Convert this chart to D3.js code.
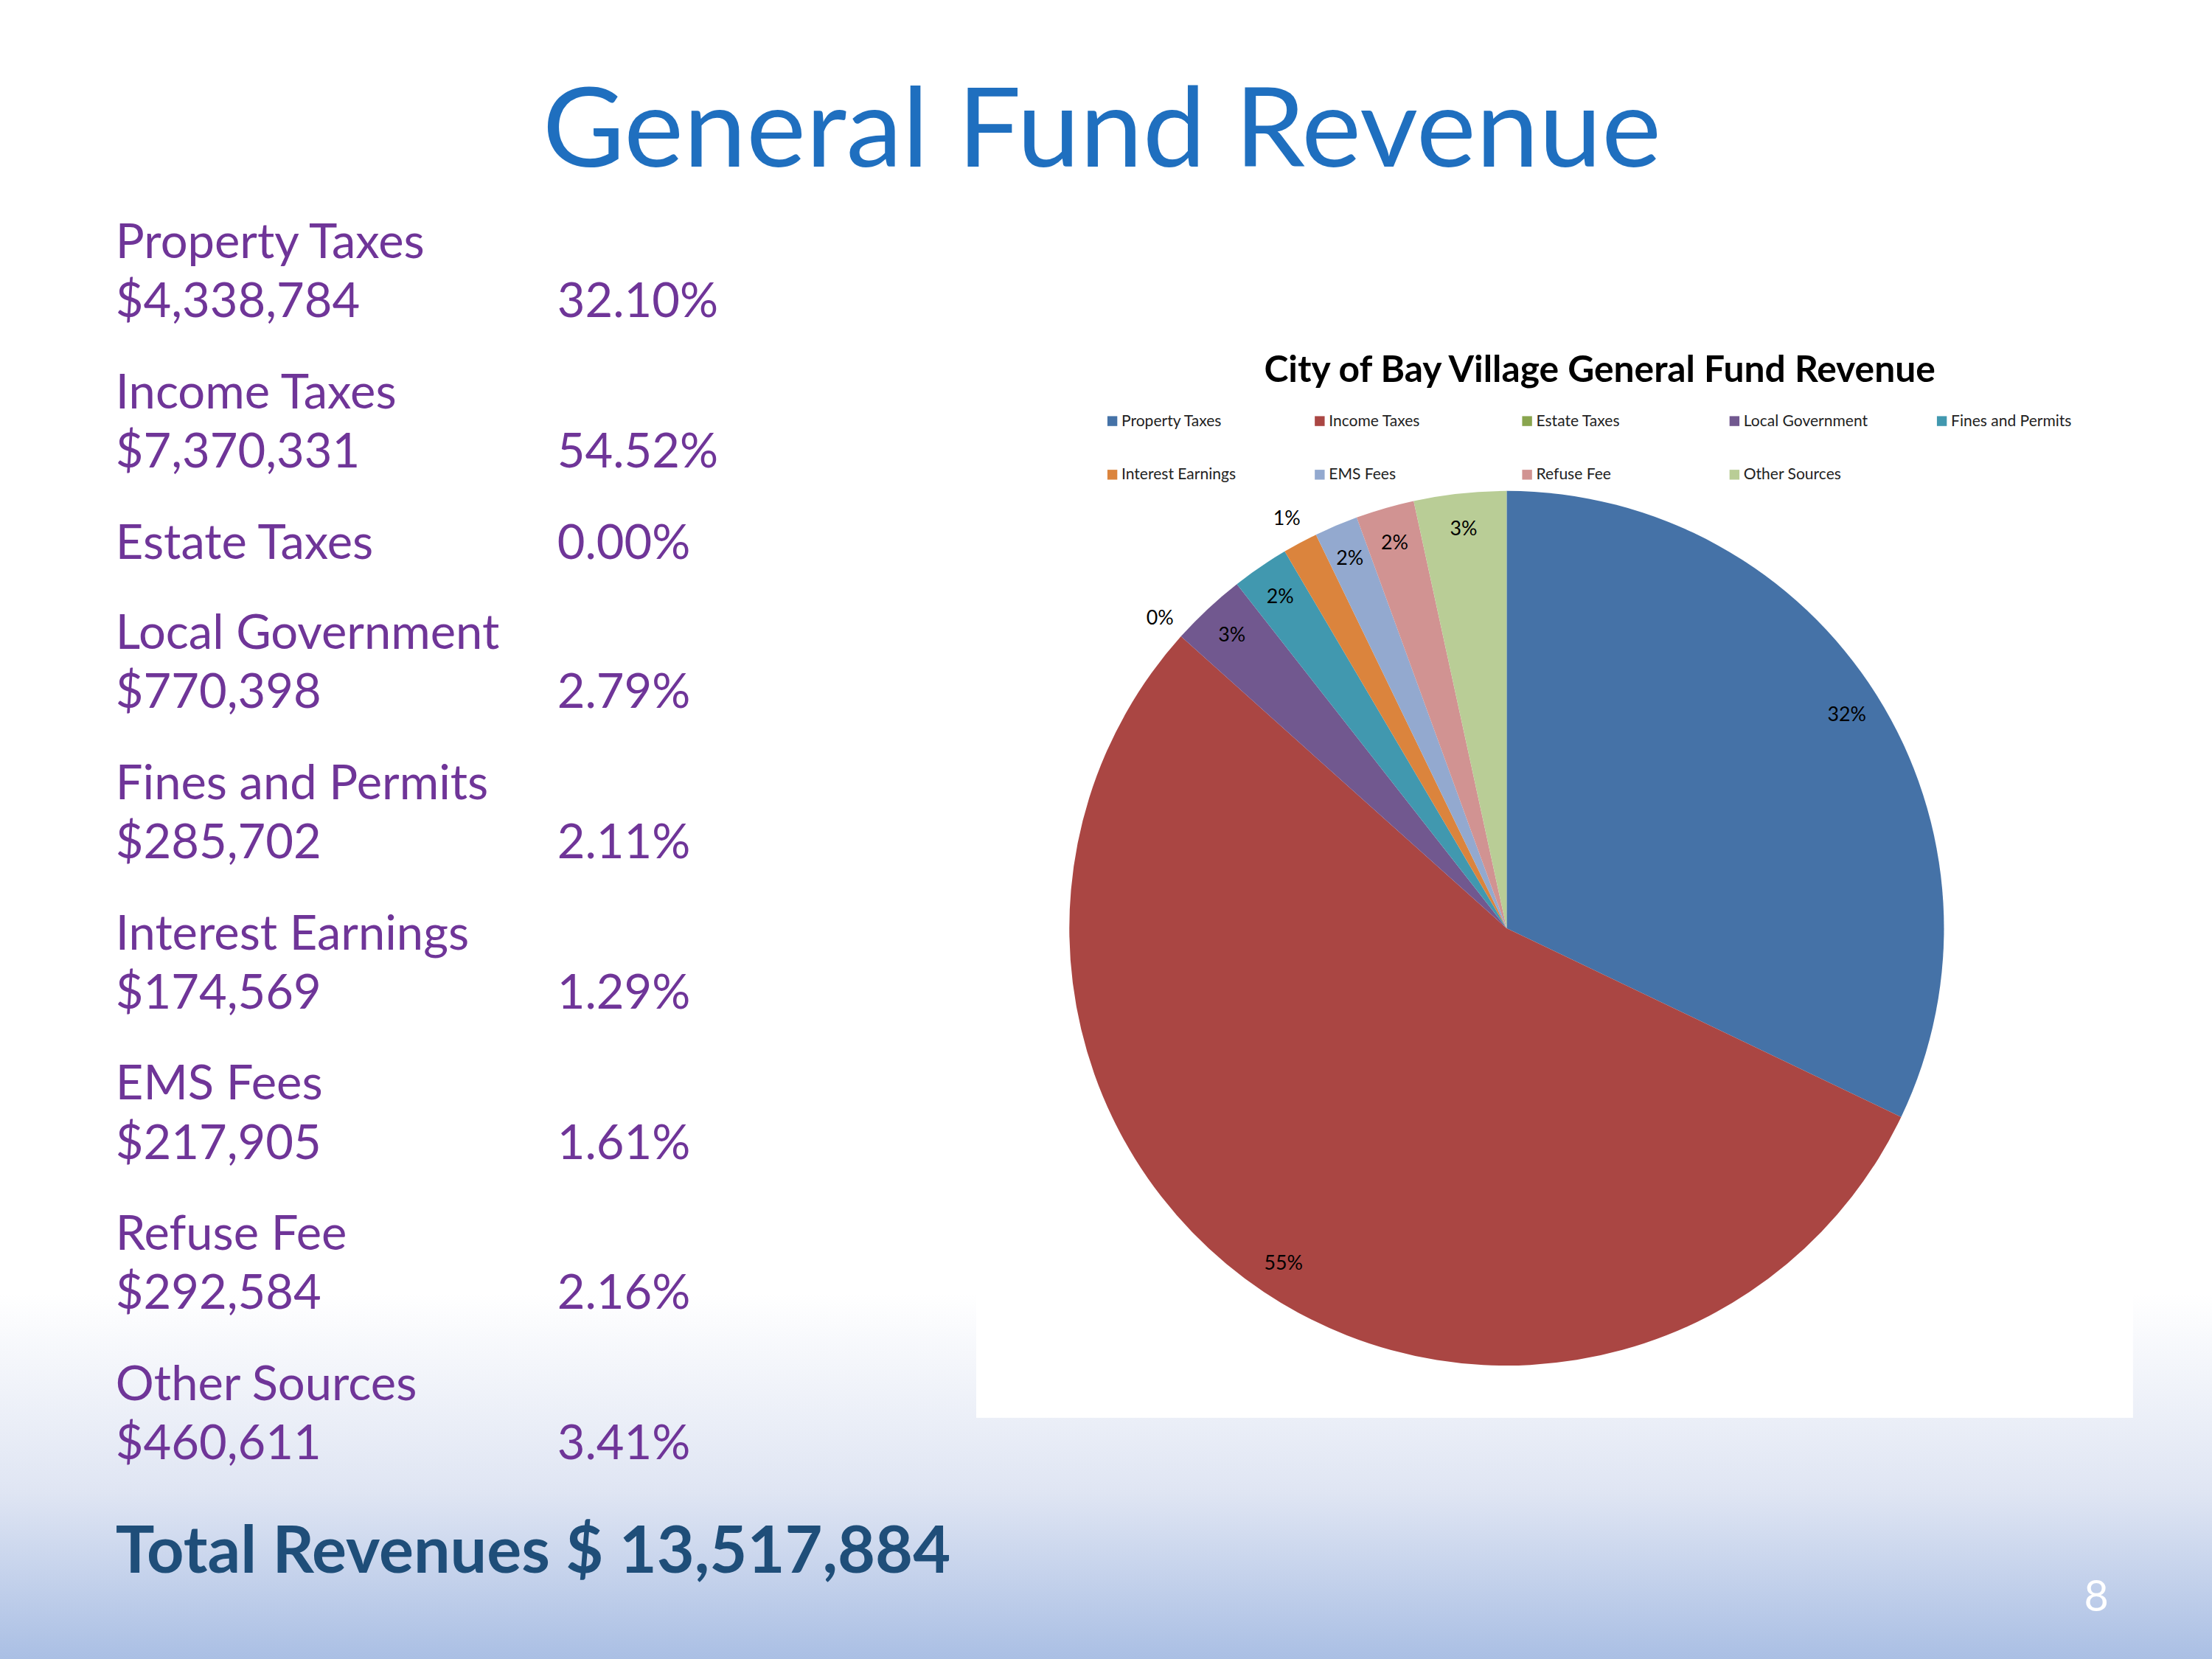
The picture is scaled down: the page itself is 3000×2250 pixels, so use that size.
<!DOCTYPE html>
<html>
<head>
<meta charset="utf-8">
<script src="https://cdn.jsdelivr.net/npm/d3@7"></script>
<style>
  body { margin: 0; }
  text { font-family: Lato, "Open Sans", sans-serif; }
</style>
</head>
<body>
<div id="slide"></div>
<script>
const categories = ['Property Taxes', 'Income Taxes', 'Estate Taxes', 'Local Government', 'Fines and Permits',
    'Interest Earnings', 'EMS Fees', 'Refuse Fee', 'Other Sources'];
const amounts = ['$4,338,784', '$7,370,331', '', '$770,398', '$285,702', '$174,569', '$217,905', '$292,584', '$460,611'];
const percents = [32.10, 54.52, 0.00, 2.79, 2.11, 1.29, 1.61, 2.16, 3.41];
const colors = ['#4572a7', '#aa4643', '#89a54e', '#71588f', '#4198af', '#db843d', '#93a9cf', '#d19392', '#b9cd96'];

const W = 1568, H = 1176;
const svg = d3.select('#slide').append('svg')
    .attr('width', 3000).attr('height', 2250)
    .attr('viewBox', `0 0 ${W} ${H}`);

const grad = svg.append('defs').append('linearGradient')
    .attr('id', 'bg').attr('x1', 0).attr('y1', 0).attr('x2', 0).attr('y2', 1);
grad.append('stop').attr('offset', '0.78').attr('stop-color', '#ffffff');
grad.append('stop').attr('offset', '0.9').attr('stop-color', '#dfe5f3');
grad.append('stop').attr('offset', '1').attr('stop-color', '#aabfe4');
svg.append('rect').attr('width', W).attr('height', H).attr('fill', 'url(#bg)');

svg.append('text').attr('x', 781).attr('y', 118).attr('text-anchor', 'middle')
    .attr('font-size', 78).attr('fill', '#1f6fbf')
    .attr('textLength', 793).attr('lengthAdjust', 'spacingAndGlyphs')
    .text('General Fund Revenue');

// left list
const purple = '#6f3598';
let y = 183;
categories.forEach((c, i) => {
    const g = svg.append('g').attr('font-size', 34).attr('fill', purple);
    g.append('text').attr('x', 82).attr('y', y).text(c);
    const pct = percents[i].toFixed(2) + '%';
    if (amounts[i]) {
        g.append('text').attr('x', 82).attr('y', y + 42).text(amounts[i]);
        g.append('text').attr('x', 395).attr('y', y + 42).text(pct);
        y += 106.5;
    } else {
        g.append('text').attr('x', 395).attr('y', y).text(pct);
        y += 64;
    }
});

svg.append('text').attr('x', 82).attr('y', 1115).attr('font-size', 46).attr('font-weight', 'bold')
    .attr('fill', '#1f4e79').text('Total Revenues  $ 13,517,884');
svg.append('text').attr('x', 1486).attr('y', 1142).attr('text-anchor', 'middle')
    .attr('font-size', 30).attr('fill', '#ffffff').text('8');

// chart box
svg.append('rect').attr('x', 692).attr('y', 225).attr('width', 820).attr('height', 780).attr('fill', '#ffffff');
svg.append('text').attr('x', 1134).attr('y', 271).attr('text-anchor', 'middle')
    .attr('font-size', 26).attr('font-weight', 'bold').attr('fill', '#000')
    .text('City of Bay Village General Fund Revenue');

const leg = svg.append('g');
categories.forEach((c, i) => {
    const lx = 785 + (i % 5) * 147, ly = 302 + Math.floor(i / 5) * 38;
    leg.append('rect').attr('x', lx).attr('y', ly - 7).attr('width', 7).attr('height', 7).attr('fill', colors[i]);
    leg.append('text').attr('x', lx + 10).attr('y', ly).attr('font-size', 11).attr('fill', '#222').text(c);
});

const cx = 1068, cy = 658, R = 310;
const pie = d3.pie().sort(null).value(d => d)(percents);
const arc = d3.arc().innerRadius(0).outerRadius(R);
const inLbl = d3.arc().innerRadius(285).outerRadius(285);
const outLbl = d3.arc().innerRadius(330).outerRadius(330);
const pg = svg.append('g').attr('transform', `translate(${cx},${cy})`);
pg.selectAll('path').data(pie).join('path').attr('d', arc).attr('fill', (d, i) => colors[i]);
pg.selectAll('text.lbl').data(pie).join('text').attr('class', 'lbl')
    .attr('transform', d => `translate(${(d.data < 1.5 ? outLbl : inLbl).centroid(d)})`)
    .attr('text-anchor', 'middle').attr('dy', '0.35em')
    .attr('font-size', 14).attr('fill', '#000')
    .text(d => Math.round(d.data) + '%');
</script>
</body>
</html>
